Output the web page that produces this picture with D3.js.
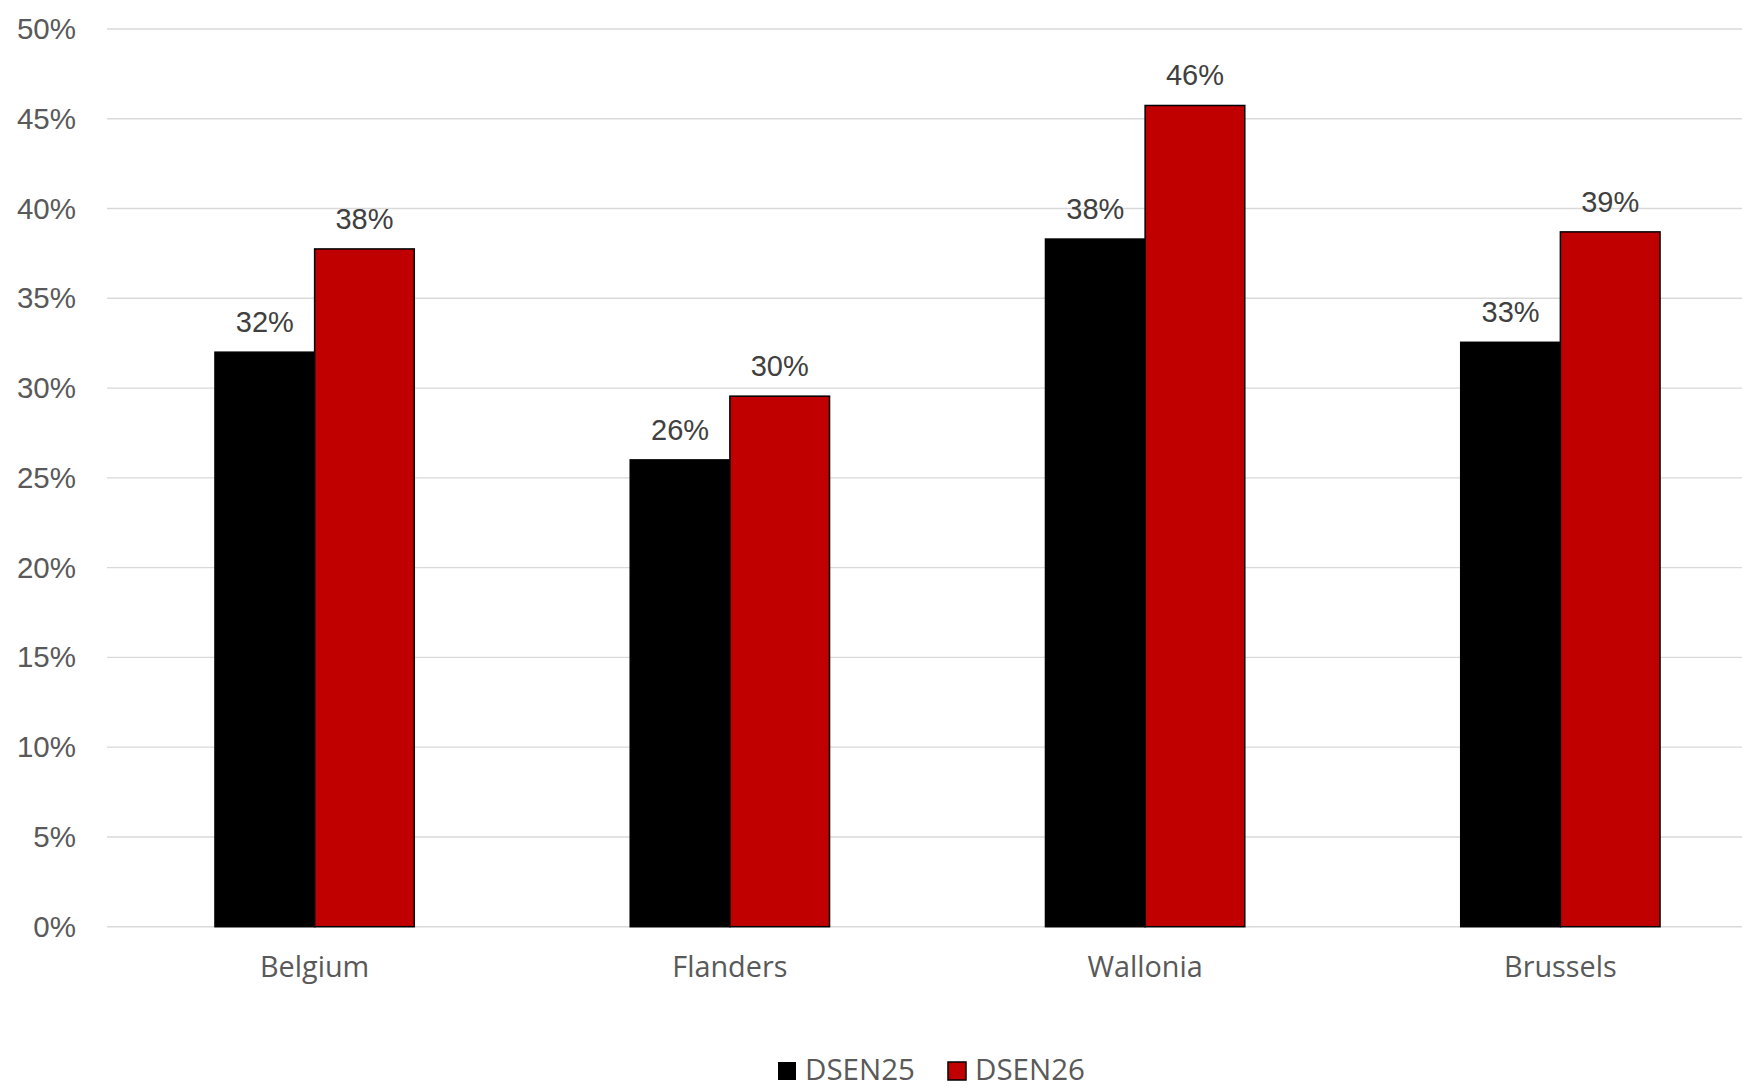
<!DOCTYPE html>
<html>
<head>
<meta charset="utf-8">
<script src="https://cdn.jsdelivr.net/npm/d3@7"></script>
<style>
  html, body { margin: 0; padding: 0; background: #fff; }
  svg { display: block; }
</style>
</head>
<body>
<svg id="chart" width="1742" height="1089"></svg>
<script>
const categories = ["Belgium", "Flanders", "Wallonia", "Brussels"];
const seriesNames = ["DSEN25", "DSEN26"];
const dsen25 = [0.320, 0.260, 0.383, 0.3255];
const dsen26 = [0.3775, 0.2955, 0.4574, 0.387];
const yTicks = [0, 0.05, 0.10, 0.15, 0.20, 0.25, 0.30, 0.35, 0.40, 0.45, 0.50];
const colors = ["#000000", "#C00000"];

const seriesValues = [dsen25, dsen26];
const rows = categories.map((c, i) => ({
  cat: c,
  vals: seriesNames.map((s, j) => ({ series: s, idx: j, value: seriesValues[j][i] }))
}));

const svg = d3.select("#chart");
svg.append("rect").attr("width", 1742).attr("height", 1089).attr("fill", "#fff");

const plotLeft = 107, plotRight = 1768;
const y = d3.scaleLinear().domain([0, 0.5]).range([926.7, 29]);
const x0 = d3.scaleBand().domain(categories).range([plotLeft, plotRight])
  .paddingInner(0.52).paddingOuter(0.26);
const x1 = d3.scaleBand().domain(seriesNames).range([0, x0.bandwidth()]).padding(0);

const fmt = d3.format(".0%");
const numFont = "'Liberation Sans', Arial, sans-serif";
const catFont = "'Open Sans', 'Noto Sans', sans-serif";

// gridlines
svg.append("g").selectAll("line").data(yTicks).join("line")
  .attr("x1", plotLeft).attr("x2", 1742)
  .attr("y1", d => y(d)).attr("y2", d => y(d))
  .attr("stroke", "#d9d9d9").attr("stroke-width", 1.4);

// y tick labels
svg.append("g").selectAll("text").data(yTicks).join("text")
  .attr("x", 76).attr("y", d => y(d) + 10)
  .attr("text-anchor", "end")
  .attr("font-family", numFont).attr("font-size", 29.5)
  .attr("fill", "#595959")
  .text(d => fmt(d));

// bars
const groups = svg.append("g").selectAll("g").data(rows).join("g")
  .attr("transform", d => `translate(${x0(d.cat)},0)`);

groups.selectAll("rect").data(d => d.vals).join("rect")
  .attr("x", d => x1(d.series))
  .attr("width", x1.bandwidth())
  .attr("y", d => y(d.value))
  .attr("height", d => y(0) - y(d.value))
  .attr("fill", d => colors[d.idx])
  .attr("stroke", "#000")
  .attr("stroke-width", 1.5);

// data labels
groups.selectAll("text").data(d => d.vals).join("text")
  .attr("x", d => x1(d.series) + x1.bandwidth() / 2)
  .attr("y", d => y(d.value) - 20)
  .attr("text-anchor", "middle")
  .attr("font-family", numFont).attr("font-size", 29)
  .attr("fill", "#404040")
  .text(d => fmt(d.value));

// category labels
svg.append("g").selectAll("text").data(categories).join("text")
  .attr("x", d => x0(d) + x0.bandwidth() / 2)
  .attr("y", 977)
  .attr("text-anchor", "middle")
  .attr("font-family", catFont).attr("font-size", 28.8)
  .attr("fill", "#595959")
  .text(d => d);

// legend
const legendX = [778, 948];
const legend = svg.append("g").selectAll("g").data(seriesNames).join("g")
  .attr("transform", (d, i) => `translate(${legendX[i]},1062)`);
legend.append("rect")
  .attr("width", 18).attr("height", 18)
  .attr("fill", (d, i) => colors[i])
  .attr("stroke", "#000").attr("stroke-width", (d, i) => i === 0 ? 0 : 1.5);
legend.append("text")
  .attr("x", 27).attr("y", 18)
  .attr("font-family", catFont).attr("font-size", 29.5)
  .attr("fill", "#595959")
  .text(d => d);
</script>
</body>
</html>
